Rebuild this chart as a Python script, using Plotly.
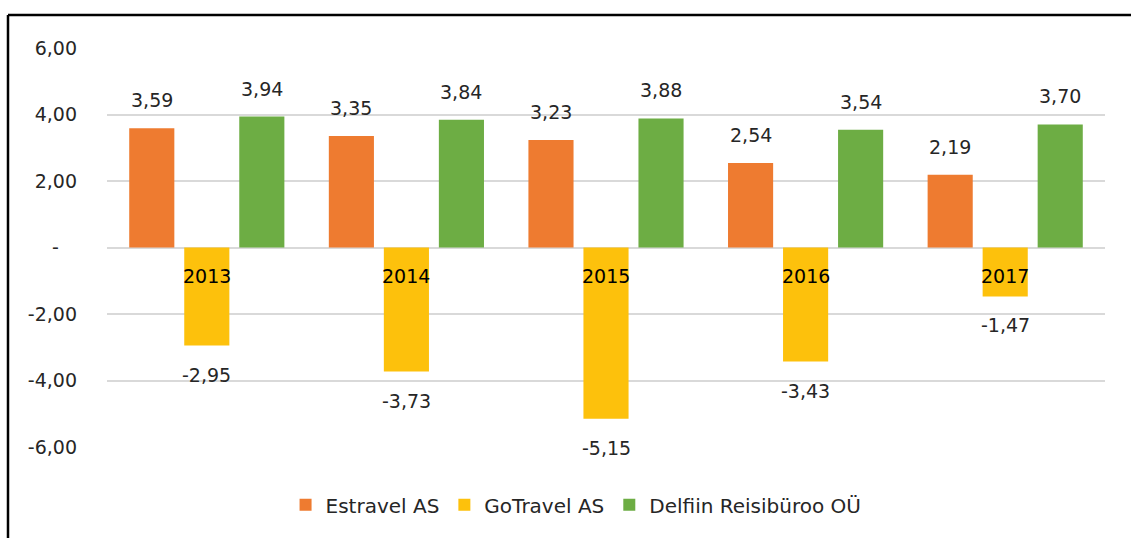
import plotly.graph_objects as go

years = ["2013", "2014", "2015", "2016", "2017"]
estravel = [3.59, 3.35, 3.23, 2.54, 2.19]
gotravel = [-2.95, -3.73, -5.15, -3.43, -1.47]
delfiin = [3.94, 3.84, 3.88, 3.54, 3.70]
series_names = ["Estravel AS", "GoTravel AS", "Delfiin Reisibüroo OÜ"]
colors = ["#EE7B30", "#FDC10C", "#6DAD44"]
y_tickvals = [6, 4, 2, 0, -2, -4, -6]
y_ticktext = ["6,00", "4,00", "2,00", "-\u00a0\u00a0\u00a0", "-2,00", "-4,00", "-6,00"]

FONT = "DejaVu Sans, sans-serif"
FS = 19
bargap = 0.173
series = [estravel, gotravel, delfiin]

fig = go.Figure()
xs = list(range(len(years)))
for name, vals, col in zip(series_names, series, colors):
    fig.add_trace(go.Bar(x=xs, y=vals, name=name, marker=dict(color=col, line=dict(width=0))))

def fmt(v):
    return f"{v:.2f}".replace(".", ",")

slot = (1 - bargap) / 3
annotations = []
for si, vals in enumerate(series):
    off = (si - 1) * slot
    for i, v in enumerate(vals):
        annotations.append(dict(
            x=i + off, y=v, xref="x", yref="y", text=fmt(v), showarrow=False,
            yanchor="middle", yshift=28 if v >= 0 else -29,
            font=dict(family=FONT, size=FS, color="#262626")))
for i, yr in enumerate(years):
    annotations.append(dict(x=i, y=-0.87, xref="x", yref="y", text=yr, showarrow=False,
                            yanchor="middle", font=dict(family=FONT, size=FS, color="#000000")))

fig.update_layout(
    width=1131, height=538,
    margin=dict(l=107, r=26, t=48, b=91),
    paper_bgcolor="white", plot_bgcolor="white",
    barmode="group", bargap=bargap, bargroupgap=0.18,
    font=dict(family=FONT, size=FS, color="#262626"),
    xaxis=dict(range=[-0.5, 4.5], showticklabels=False, showgrid=False, zeroline=False,
               showline=False, ticks=""),
    yaxis=dict(range=[-6, 6], tickvals=y_tickvals, ticktext=y_ticktext,
               showgrid=True, gridcolor="#D9D9D9", gridwidth=1.5,
               zeroline=True, zerolinecolor="#D9D9D9", zerolinewidth=1.5,
               showline=False, ticks="", ticklabelstandoff=29,
               tickfont=dict(family=FONT, size=FS, color="#262626")),
    legend=dict(orientation="h", x=0.47, xanchor="center", y=-0.145, yanchor="middle",
                font=dict(family=FONT, size=20, color="#262626"), traceorder="normal",
                itemwidth=30),
    annotations=annotations,
    showlegend=True,
)

# outer chart border (top and left edges visible)
fig.add_shape(type="line", xref="paper", yref="paper", x0=-0.0992, x1=1.1, y0=1.0827, y1=1.0827,
              line=dict(color="black", width=2.5))
fig.add_shape(type="line", xref="paper", yref="paper", x0=-0.0992, x1=-0.0992, y0=1.0827, y1=-0.3,
              line=dict(color="black", width=2.5))

fig.write_html("out.html", config={"displayModeBar": False},
               post_script="document.body.style.margin='0';document.body.style.overflow='hidden';")
